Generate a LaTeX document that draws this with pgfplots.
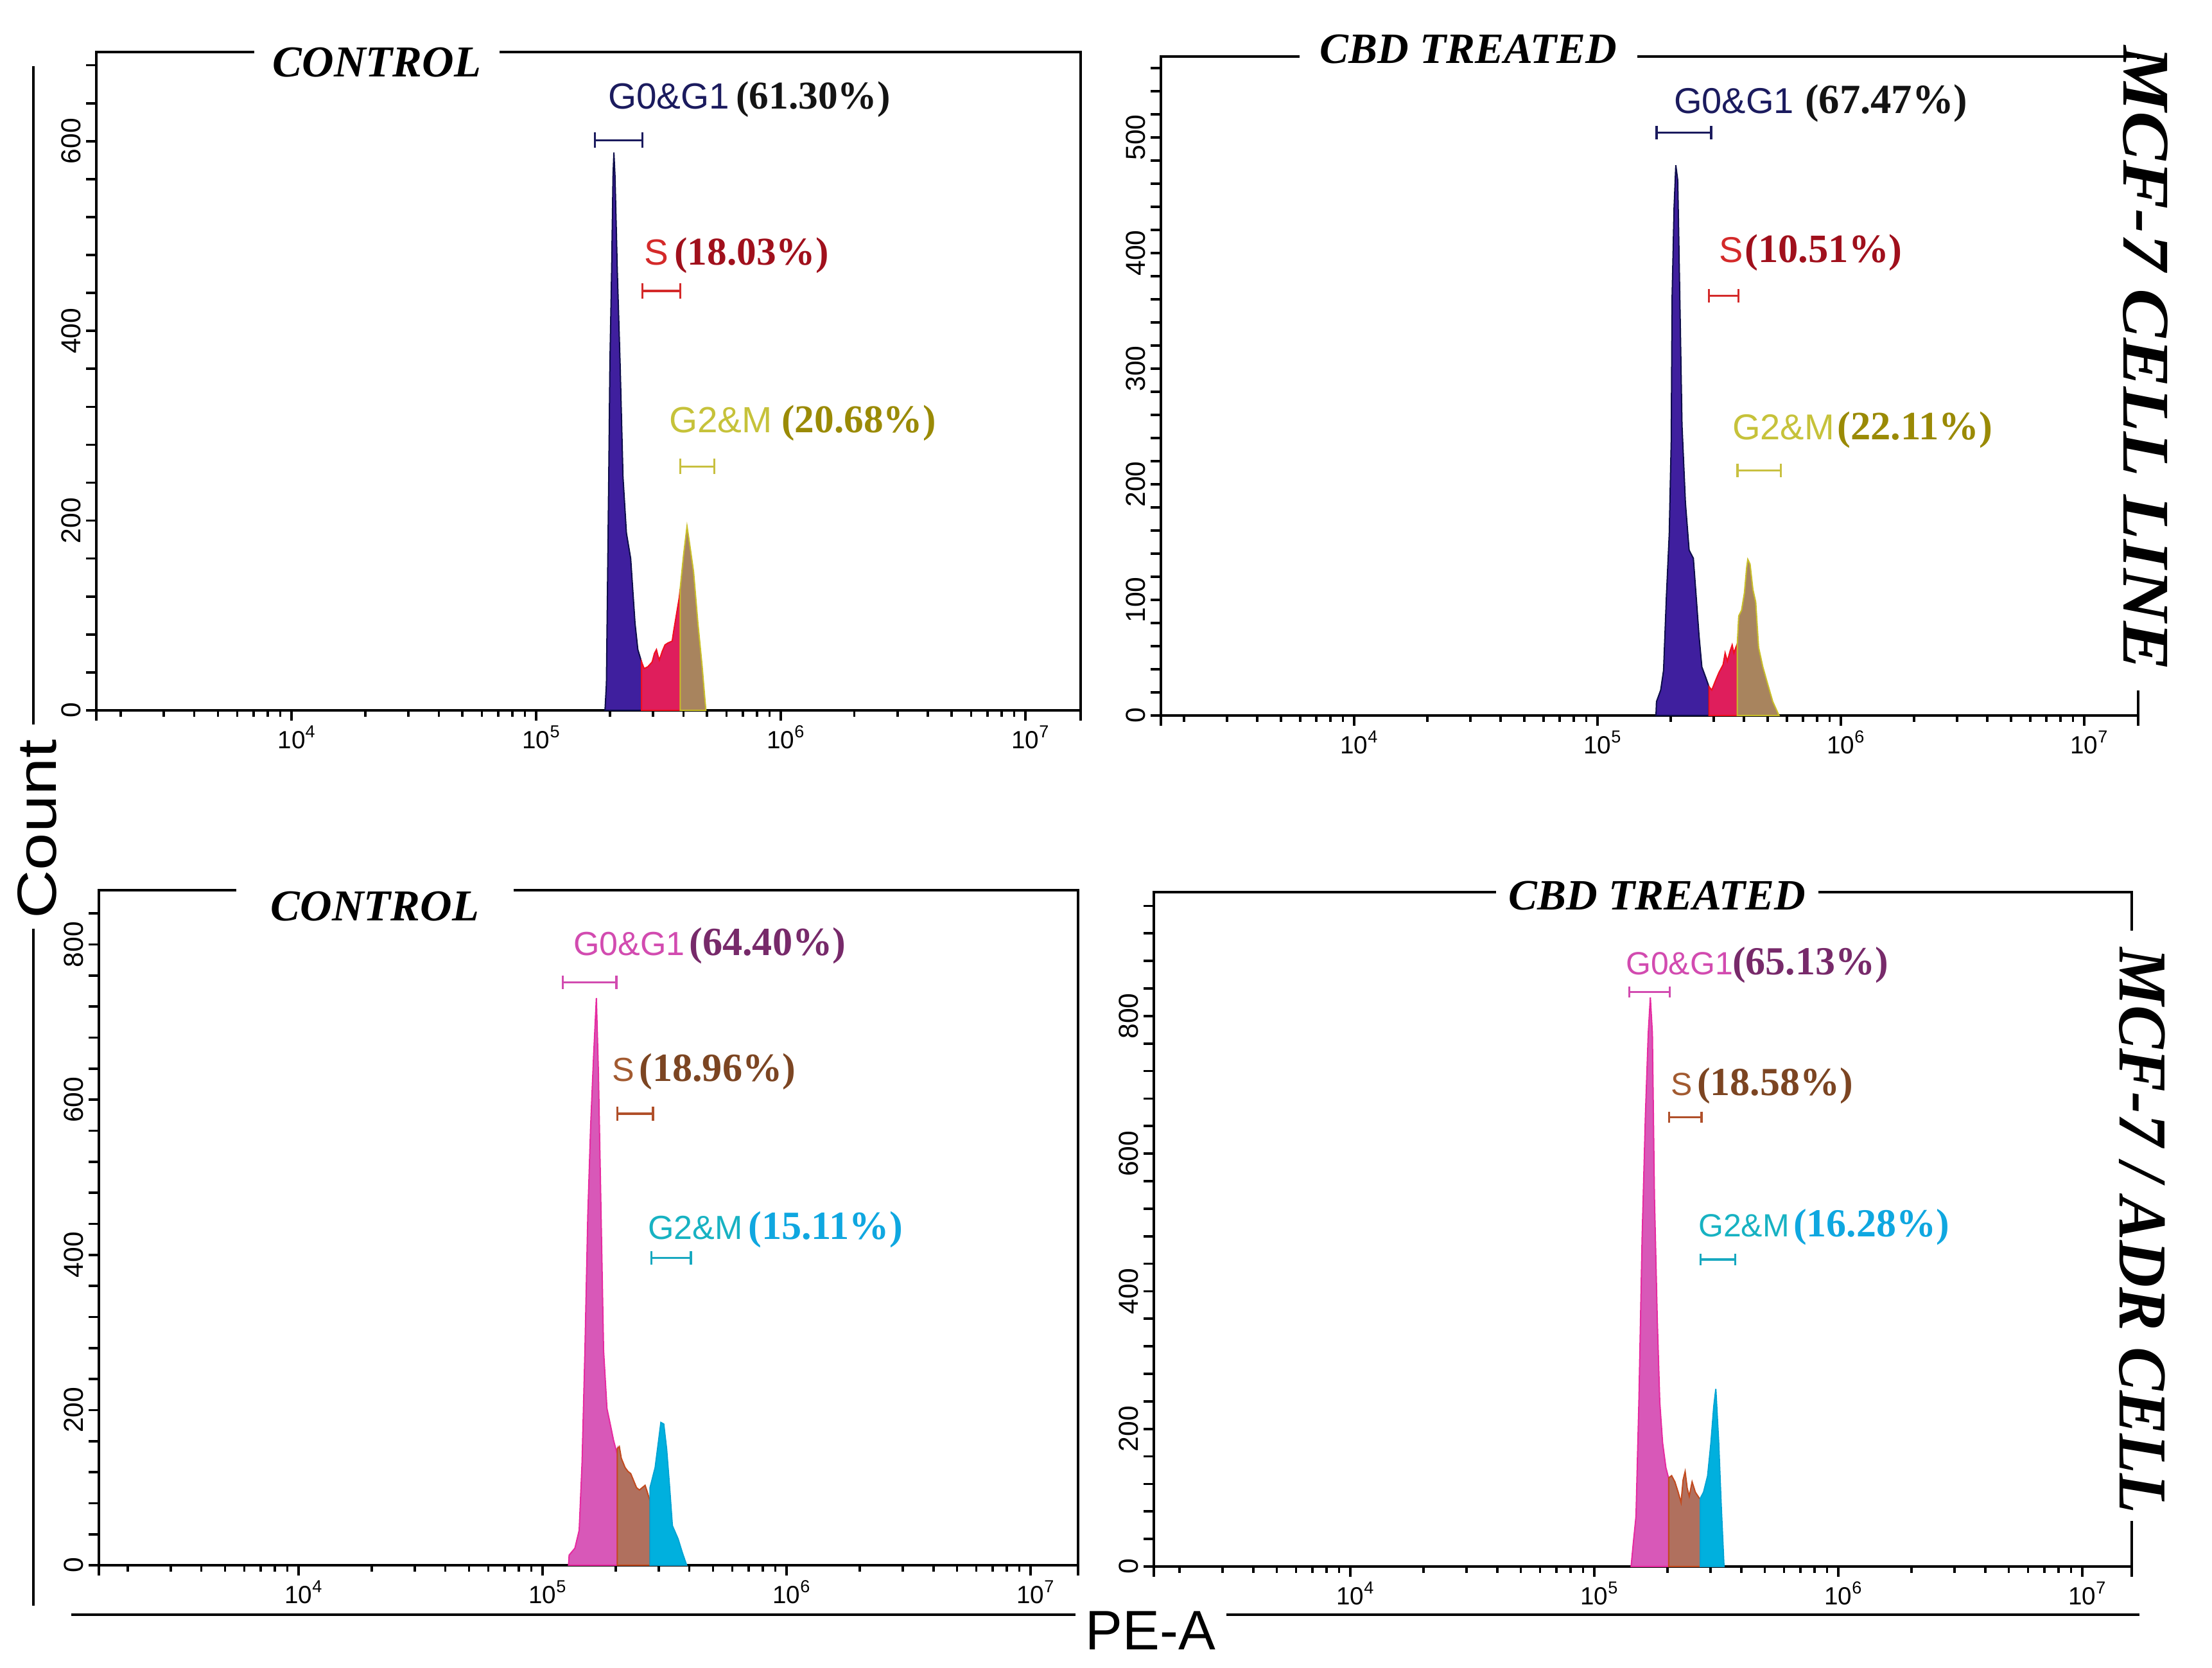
\documentclass[border=0pt]{standalone}
\usepackage{graphicx}
\usepackage{fontspec}
\setmainfont{Liberation Sans}
\newfontfamily\serif{Liberation Serif}
\usepackage{pgfplots}
\pgfplotsset{compat=1.18}

\definecolor{aG}{HTML}{3F1F9E}\definecolor{aGd}{HTML}{0D0D4A}
\definecolor{aS}{HTML}{DF1E5C}\definecolor{aSd}{HTML}{F01020}
\definecolor{aM}{HTML}{A8845E}\definecolor{aMd}{HTML}{C9BF2A}
\definecolor{aGl}{HTML}{1B1B5E}\definecolor{aGp}{HTML}{141414}
\definecolor{aSl}{HTML}{D42A2A}\definecolor{aSp}{HTML}{A0101C}
\definecolor{aMl}{HTML}{C6C23A}\definecolor{aMp}{HTML}{9A8A05}
\definecolor{aMb}{HTML}{C8C040}
\definecolor{bG}{HTML}{D858B8}\definecolor{bGd}{HTML}{E62AA0}
\definecolor{bS}{HTML}{B0705E}\definecolor{bSd}{HTML}{C24A1E}
\definecolor{bM}{HTML}{00B0DE}\definecolor{bMd}{HTML}{00A4D4}
\definecolor{bGl}{HTML}{D24BB0}\definecolor{bGp}{HTML}{772A6A}
\definecolor{bSl}{HTML}{A25A30}\definecolor{bSp}{HTML}{7C4522}
\definecolor{bMl}{HTML}{17B2C2}\definecolor{bMp}{HTML}{0FA7E0}
\definecolor{bSb}{HTML}{B0502A}\definecolor{bMb}{HTML}{17A8C0}

\newcommand\tp[1]{10\rlap{\textsuperscript{#1}}}
\pgfplotsset{cytoaxis/.style={
  scale only axis, anchor=south west, ymin=0,
  tick align=outside, tick pos=left,
  major tick length=2.4pt, minor tick length=1.5pt,
  axis line style={line width=0.5pt},
  every tick/.append style={black,line width=0.55pt},
  minor xtick={2e3,3e3,4e3,5e3,6e3,7e3,8e3,9e3,2e4,3e4,4e4,5e4,6e4,7e4,8e4,9e4,2e5,3e5,4e5,5e5,6e5,7e5,8e5,9e5,2e6,3e6,4e6,5e6,6e6,7e6,8e6,9e6},
  xticklabels={{},\tp{4},\tp{5},\tp{6},\tp{7},{}},
  yticklabel style={rotate=90, anchor=south, inner sep=1pt, font=\fontsize{6.4}{7}\selectfont},
  xticklabel style={inner sep=1pt, font=\fontsize{5.8}{6}\selectfont},
  clip=false}}
\pgfplotsset{gatebar/.style={mark=|, line width=0.5pt, mark size=#1, mark options={line width=0.5pt}}}

\begin{document}
\begin{tikzpicture}
\path[use as bounding box] (0,0) rectangle (516.75pt,-389.55pt);

% ---------------- Top left: MCF-7 control
\begin{axis}[xmode=log, cytoaxis, at={(22.5pt,-165.9pt)}, width=229.95pt, height=153.75pt,
  xmin=1592, xmax=1.683e7, ymax=694,
  xtick={1592,1e4,1e5,1e6,1e7,1.683e7},
  ytick={0,40,...,680}, yticklabels={0,,,,,200,,,,,400,,,,,600,,}]
\addplot[fill=aG, draw=aGd, line width=0.3pt] coordinates {(1.912e5,0) (1.938e5,28) (1.981e5,246) (2.002e5,364) (2.035e5,463) (2.062e5,563) (2.079e5,588) (2.101e5,563) (2.147e5,463) (2.205e5,364) (2.265e5,246) (2.339e5,187) (2.435e5,160) (2.536e5,92) (2.605e5,64) (2.698e5,51)} \closedcycle;
\addplot[fill=aS, draw=aSd, line width=0.3pt] coordinates {(2.698e5,51) (2.764e5,44) (2.862e5,46) (2.980e5,51) (3.045e5,60) (3.103e5,64) (3.145e5,58) (3.188e5,53) (3.275e5,62) (3.364e5,69) (3.456e5,71) (3.598e5,73) (3.647e5,83) (3.746e5,101) (3.848e5,119) (3.879e5,128)} \closedcycle;
\addplot[fill=aM, draw=aMd, line width=0.3pt] coordinates {(3.879e5,128) (4.006e5,164) (4.138e5,194) (4.228e5,178) (4.402e5,146) (4.584e5,92) (4.773e5,46) (4.903e5,10) (4.943e5,0)} \closedcycle;
\addplot[gatebar=1.8pt, color=aGl] coordinates {(1.74e5,601) (2.72e5,601)};
\addplot[gatebar=1.8pt, color=aSl] coordinates {(2.72e5,442) (3.88e5,442)};
\addplot[gatebar=1.8pt, color=aMb] coordinates {(3.88e5,257) (5.35e5,257)};
\end{axis}

% ---------------- Top right: MCF-7 CBD
\begin{axis}[xmode=log, cytoaxis, at={(271.2pt,-167.1pt)}, width=228.3pt, height=153.9pt,
  xmin=1607, xmax=1.667e7, ymax=570,
  xtick={1607,1e4,1e5,1e6,1e7,1.667e7},
  ytick={0,20,...,560}, yticklabels={0,,,,,100,,,,,200,,,,,300,,,,,400,,,,,500,,,}]
\addplot[fill=aG, draw=aGd, line width=0.3pt] coordinates {(1.739e5,0) (1.748e5,12) (1.819e5,22) (1.869e5,39) (1.920e5,103) (1.972e5,157) (2.009e5,237) (2.026e5,362) (2.064e5,439) (2.098e5,476) (2.137e5,463) (2.178e5,365) (2.225e5,251) (2.298e5,184) (2.380e5,143) (2.477e5,136) (2.544e5,103) (2.614e5,69) (2.685e5,42) (2.795e5,32) (2.871e5,25)} \closedcycle;
\addplot[fill=aS, draw=aSd, line width=0.3pt] coordinates {(2.871e5,25) (2.949e5,22) (3.053e5,30) (3.153e5,37) (3.283e5,44) (3.346e5,54) (3.418e5,47) (3.511e5,56) (3.577e5,61) (3.636e5,54) (3.705e5,59) (3.754e5,62)} \closedcycle;
\addplot[fill=aM, draw=aMd, line width=0.3pt] coordinates {(3.754e5,62) (3.805e5,86) (3.908e5,91) (4.015e5,106) (4.102e5,128) (4.146e5,135) (4.236e5,131) (4.352e5,109) (4.470e5,98) (4.592e5,59) (4.781e5,42) (4.978e5,29) (5.252e5,12) (5.571e5,0)} \closedcycle;
\addplot[gatebar=1.6pt, color=aGl] coordinates {(1.75e5,504) (2.93e5,504)};
\addplot[gatebar=1.6pt, color=aSl] coordinates {(2.87e5,363) (3.80e5,363)};
\addplot[gatebar=1.6pt, color=aMb] coordinates {(3.76e5,212) (5.66e5,212)};
\end{axis}

% ---------------- Bottom left: MCF-7/ADR control
\begin{axis}[xmode=log, cytoaxis, at={(23.1pt,-365.55pt)}, width=228.75pt, height=157.65pt,
  xmin=1521, xmax=1.567e7, ymax=870,
  xtick={1521,1e4,1e5,1e6,1e7,1.567e7},
  ytick={0,40,...,840}, yticklabels={0,,,,,200,,,,,400,,,,,600,,,,,800,}]
\addplot[fill=bG, draw=bGd, line width=0.3pt] coordinates {(1.279e5,0) (1.286e5,13) (1.358e5,22) (1.414e5,45) (1.453e5,132) (1.493e5,277) (1.534e5,451) (1.576e5,567) (1.619e5,654) (1.663e5,731) (1.695e5,637) (1.732e5,480) (1.780e5,277) (1.838e5,202) (1.904e5,179) (1.956e5,161) (2.010e5,147) (2.026e5,150)} \closedcycle;
\addplot[fill=bS, draw=bSd, line width=0.3pt] coordinates {(2.026e5,150) (2.065e5,153) (2.104e5,138) (2.180e5,126) (2.240e5,121) (2.301e5,118) (2.364e5,109) (2.429e5,100) (2.496e5,97) (2.564e5,100) (2.634e5,103) (2.685e5,95) (2.76e5,83)} \closedcycle;
\addplot[fill=bM, draw=bMd, line width=0.3pt] coordinates {(2.76e5,100) (2.896e5,126) (2.976e5,155) (3.057e5,184) (3.141e5,182) (3.227e5,150) (3.315e5,103) (3.407e5,51) (3.596e5,34) (3.745e5,16) (3.900e5,0)} \closedcycle;
\addplot[gatebar=1.6pt, color=bGl] coordinates {(1.21e5,751) (2.01e5,751)};
\addplot[gatebar=1.6pt, color=bSb] coordinates {(2.03e5,582) (2.84e5,582)};
\addplot[gatebar=1.6pt, color=bMb] coordinates {(2.80e5,396) (4.06e5,396)};
\end{axis}

% ---------------- Bottom right: MCF-7/ADR CBD
\begin{axis}[xmode=log, cytoaxis, at={(269.55pt,-365.85pt)}, width=228.45pt, height=157.5pt,
  xmin=1567, xmax=1.596e7, ymax=980,
  xtick={1567,1e4,1e5,1e6,1e7,1.596e7},
  ytick={0,40,...,960}, yticklabels={0,,,,,200,,,,,400,,,,,600,,,,,800,,,,,}]
\addplot[fill=bG, draw=bGd, line width=0.3pt] coordinates {(1.416e5,0) (1.443e5,31) (1.483e5,73) (1.524e5,239) (1.571e5,477) (1.621e5,656) (1.665e5,775) (1.698e5,827) (1.731e5,775) (1.765e5,537) (1.813e5,358) (1.856e5,239) (1.906e5,180) (1.966e5,144) (2.005e5,132) (2.020e5,129)} \closedcycle;
\addplot[fill=bS, draw=bSd, line width=0.3pt] coordinates {(2.020e5,129) (2.076e5,132) (2.141e5,123) (2.208e5,108) (2.269e5,93) (2.313e5,126) (2.358e5,138) (2.404e5,114) (2.451e5,102) (2.518e5,123) (2.597e5,108) (2.699e5,99) (2.720e5,99)} \closedcycle;
\addplot[fill=bM, draw=bMd, line width=0.3pt] coordinates {(2.720e5,99) (2.805e5,108) (2.916e5,132) (3.008e5,180) (3.090e5,233) (3.150e5,258) (3.237e5,180) (3.313e5,90) (3.403e5,0)} \closedcycle;
\addplot[gatebar=1.3pt, color=bGl] coordinates {(1.39e5,835) (2.04e5,835)};
\addplot[gatebar=1.3pt, color=bSb] coordinates {(2.03e5,653) (2.75e5,653)};
\addplot[gatebar=1.3pt, color=bMb] coordinates {(2.73e5,446) (3.79e5,446)};
\end{axis}

% ---------------- annotations (pixel coordinates of the reference)
\begin{scope}[x=0.15pt, y=-0.15pt]
\draw[line width=0.5pt] (52,103) -- (52,1128);
\draw[line width=0.5pt] (52,1446) -- (52,2500);
\node[rotate=90, inner sep=0pt, font=\fontsize{12.9}{13}\selectfont] at (58,1291) {\scalebox{1.22}[1]{Count}};
\draw[line width=0.5pt] (111,2514) -- (1675,2514);
\draw[line width=0.5pt] (1910,2514) -- (3332,2514);
\node[anchor=base, inner sep=0pt, font=\fontsize{13}{13}\selectfont] at (1792,2569) {PE-A};
\node[anchor=base, fill=white, inner xsep=4.4pt, inner ysep=1pt, font=\serif\bfseries\itshape\fontsize{10.3}{11}\selectfont] at (587,120) {CONTROL};
\node[anchor=base, fill=white, inner xsep=4.8pt, inner ysep=1pt, font=\serif\bfseries\itshape\fontsize{10.1}{11}\selectfont] at (2287,99) {CBD TREATED};
\node[anchor=base, fill=white, inner xsep=8.1pt, inner ysep=1pt, font=\serif\bfseries\itshape\fontsize{10.3}{11}\selectfont] at (584,1434) {CONTROL};
\node[anchor=base, fill=white, inner xsep=3pt, inner ysep=1pt, font=\serif\bfseries\itshape\fontsize{10.1}{11}\selectfont] at (2581,1417) {CBD TREATED};
\fill[white] (3298,92) rectangle (3385,1075);
\node[rotate=-90, inner sep=0pt, font=\serif\bfseries\itshape\fontsize{15.6}{17}\selectfont] at (3342,558) {\scalebox{1.1}[1]{MCF-7 CELL LINE}};
\fill[white] (3295,1449) rectangle (3385,2368);
\node[rotate=-90, inner sep=0pt, font=\serif\bfseries\itshape\fontsize{16}{17}\selectfont] at (3336,1916) {\scalebox{0.95}[1]{MCF-7 / ADR CELL}};
\begin{scope}[every node/.style={anchor=base west, inner sep=0pt}]
\node[text=aGl, font=\fontsize{8.5}{9}\selectfont] at (946,170) {G0\&G1};
\node[text=aGp, font=\serif\bfseries\fontsize{9.2}{10}\selectfont] at (1145,170) {(61.30\%)};
\node[text=aSl, font=\fontsize{8.5}{9}\selectfont] at (1002,413) {S};
\node[text=aSp, font=\serif\bfseries\fontsize{9.2}{10}\selectfont] at (1049,413) {(18.03\%)};
\node[text=aMl, font=\fontsize{8.5}{9}\selectfont] at (1041,674) {G2\&M};
\node[text=aMp, font=\serif\bfseries\fontsize{9.2}{10}\selectfont] at (1216,674) {(20.68\%)};
\node[text=aGl, font=\fontsize{8.4}{9}\selectfont] at (2606,177) {G0\&G1};
\node[text=aGp, font=\serif\bfseries\fontsize{9.7}{10}\selectfont] at (2810,177) {(67.47\%)};
\node[text=aSl, font=\fontsize{8.4}{9}\selectfont] at (2676,409) {S};
\node[text=aSp, font=\serif\bfseries\fontsize{9.4}{10}\selectfont] at (2716,409) {(10.51\%)};
\node[text=aMl, font=\fontsize{8.4}{9}\selectfont] at (2697,685) {G2\&M};
\node[text=aMp, font=\serif\bfseries\fontsize{9.4}{10}\selectfont] at (2860,685) {(22.11\%)};
\node[text=bGl, font=\fontsize{7.8}{9}\selectfont] at (892,1488) {G0\&G1};
\node[text=bGp, font=\serif\bfseries\fontsize{9.35}{10}\selectfont] at (1072,1488) {(64.40\%)};
\node[text=bSl, font=\fontsize{7.8}{9}\selectfont] at (952,1684) {S};
\node[text=bSp, font=\serif\bfseries\fontsize{9.35}{10}\selectfont] at (994,1684) {(18.96\%)};
\node[text=bMl, font=\fontsize{7.8}{9}\selectfont] at (1008,1930) {G2\&M};
\node[text=bMp, font=\serif\bfseries\fontsize{9.35}{10}\selectfont] at (1164,1930) {(15.11\%)};
\node[text=bGl, font=\fontsize{7.5}{9}\selectfont] at (2531,1518) {G0\&G1};
\node[text=bGp, font=\serif\bfseries\fontsize{9.3}{10}\selectfont] at (2697,1518) {(65.13\%)};
\node[text=bSl, font=\fontsize{7.5}{9}\selectfont] at (2601,1706) {S};
\node[text=bSp, font=\serif\bfseries\fontsize{9.3}{10}\selectfont] at (2642,1706) {(18.58\%)};
\node[text=bMl, font=\fontsize{7.5}{9}\selectfont] at (2644,1926) {G2\&M};
\node[text=bMp, font=\serif\bfseries\fontsize{9.3}{10}\selectfont] at (2792,1926) {(16.28\%)};
\end{scope}
\end{scope}
\end{tikzpicture}
\end{document}
